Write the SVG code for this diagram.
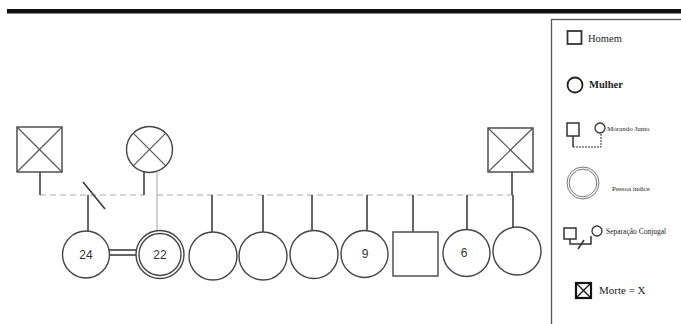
<svg xmlns="http://www.w3.org/2000/svg" width="681" height="324" viewBox="0 0 681 324">
<style>
.s{fill:#fff;stroke:#444;stroke-width:1.4}
.x{stroke:#555;stroke-width:1.2;fill:none}
.l{stroke:#333;stroke-width:1.5;fill:none}
.t{stroke:#999;stroke-width:0.9;fill:none}
.d{stroke:#aaa;stroke-width:1;stroke-dasharray:6 4;fill:none}
.n{font-family:"Liberation Sans",Arial,sans-serif;font-size:12px;fill:#333;text-anchor:middle}
.g{font-family:"Liberation Serif","Times New Roman",serif;fill:#222}
</style>
<rect x="7" y="9" width="674" height="4.5" fill="#111"/>
<g id="legend">
<rect x="551.5" y="19.5" width="140" height="320" fill="#fff" stroke="#555" stroke-width="1.3"/>
<rect x="567.5" y="31" width="14" height="13" fill="none" stroke="#333" stroke-width="1.8"/>
<text class="g" x="588" y="41.5" font-size="10.5" fill="#333">Homem</text>
<circle cx="575" cy="85" r="7.5" fill="none" stroke="#222" stroke-width="1.8"/>
<text class="g" x="589" y="88" font-size="10.5" font-weight="bold">Mulher</text>
<rect x="567" y="123" width="12" height="13" fill="none" stroke="#333" stroke-width="1.5"/>
<circle cx="600" cy="128" r="5" fill="none" stroke="#333" stroke-width="1.3"/>
<path d="M573 136V147" class="l" stroke-width="1.2"/>
<path d="M573 147H601V133" stroke="#333" stroke-width="1" stroke-dasharray="2 1" fill="none"/>
<text class="g" x="607" y="131" font-size="7">Morando Junto</text>
<circle cx="583" cy="183" r="16" fill="none" stroke="#777" stroke-width="1"/>
<circle cx="583" cy="183" r="13.8" fill="none" stroke="#777" stroke-width="1"/>
<text class="g" x="612" y="191" font-size="7" fill="#444">Pessoa índice</text>
<rect x="564" y="228" width="12" height="11" fill="none" stroke="#333" stroke-width="1.5"/>
<circle cx="597" cy="231" r="5" fill="none" stroke="#333" stroke-width="1.3"/>
<path d="M570 239V244H591V236" class="l" stroke-width="1.2"/>
<path d="M578 249L584 240" class="l" stroke-width="1.2"/>
<text class="g" x="606" y="234" font-size="7.5">Separação Conjugal</text>
<rect x="576" y="283" width="15" height="15" fill="none" stroke="#111" stroke-width="2.2"/>
<path d="M576 283L591 298M591 283L576 298" stroke="#111" stroke-width="1.3"/>
<text class="g" x="599" y="294" font-size="11">Morte = X</text>
</g>
<g id="connectors">
<path class="d" d="M40 195H144M157 195H513"/>
<path class="l" d="M40 172V195"/>
<path class="l" d="M144 172V195"/>
<path class="t" d="M157 172V230"/>
<path class="l" d="M88 195V231"/>
<path class="l" d="M83 182L105 209" stroke-width="1.2"/>
<path class="l" d="M212 195V232"/>
<path class="l" d="M263 195V232"/>
<path class="l" d="M312 195V231"/>
<path class="l" d="M367 195V230"/>
<path class="l" d="M413 195V232"/>
<path class="l" d="M467 195V229"/>
<path class="l" d="M512 172V195"/>
<path class="l" d="M513 195V227" stroke-width="1.1"/>
<path class="l" d="M109 250H137M109 255H137" stroke-width="1.3"/>
</g>
<g id="p-left-father">
<rect class="s" x="17" y="127" width="45" height="45" stroke-width="1.8"/>
<path class="x" d="M17 127L62 172M62 127L17 172"/>
</g>
<g id="p-mother">
<circle class="s" cx="149.5" cy="149.5" r="23"/>
<path class="x" d="M133.2 133.2L165.8 165.8M165.8 133.2L133.2 165.8"/>
</g>
<g id="p-right-father">
<rect class="s" x="488" y="128" width="45" height="44" stroke-width="1.8"/>
<path class="x" d="M488 128L533 172M533 128L488 172"/>
</g>
<g id="p24">
<circle class="s" cx="86" cy="254.5" r="23.5"/>
<text class="n" x="86" y="258.5">24</text>
</g>
<g id="p22">
<circle class="s" cx="160" cy="254.5" r="24"/>
<circle class="s" cx="160" cy="254.5" r="21"/>
<text class="n" x="160" y="258.5">22</text>
</g>
<g id="p3"><circle class="s" cx="213" cy="256" r="24"/></g>
<g id="p4"><circle class="s" cx="263" cy="256" r="24"/></g>
<g id="p5"><circle class="s" cx="314" cy="254.5" r="24"/></g>
<g id="p9">
<circle class="s" cx="364.5" cy="254" r="23.5"/>
<text class="n" x="365" y="257.5">9</text>
</g>
<g id="pson"><rect class="s" x="393" y="232" width="45" height="44"/></g>
<g id="p6">
<circle class="s" cx="466.5" cy="253" r="23.5"/>
<text class="n" x="464" y="257">6</text>
</g>
<g id="plast"><circle class="s" cx="517" cy="251" r="24"/></g>
</svg>
